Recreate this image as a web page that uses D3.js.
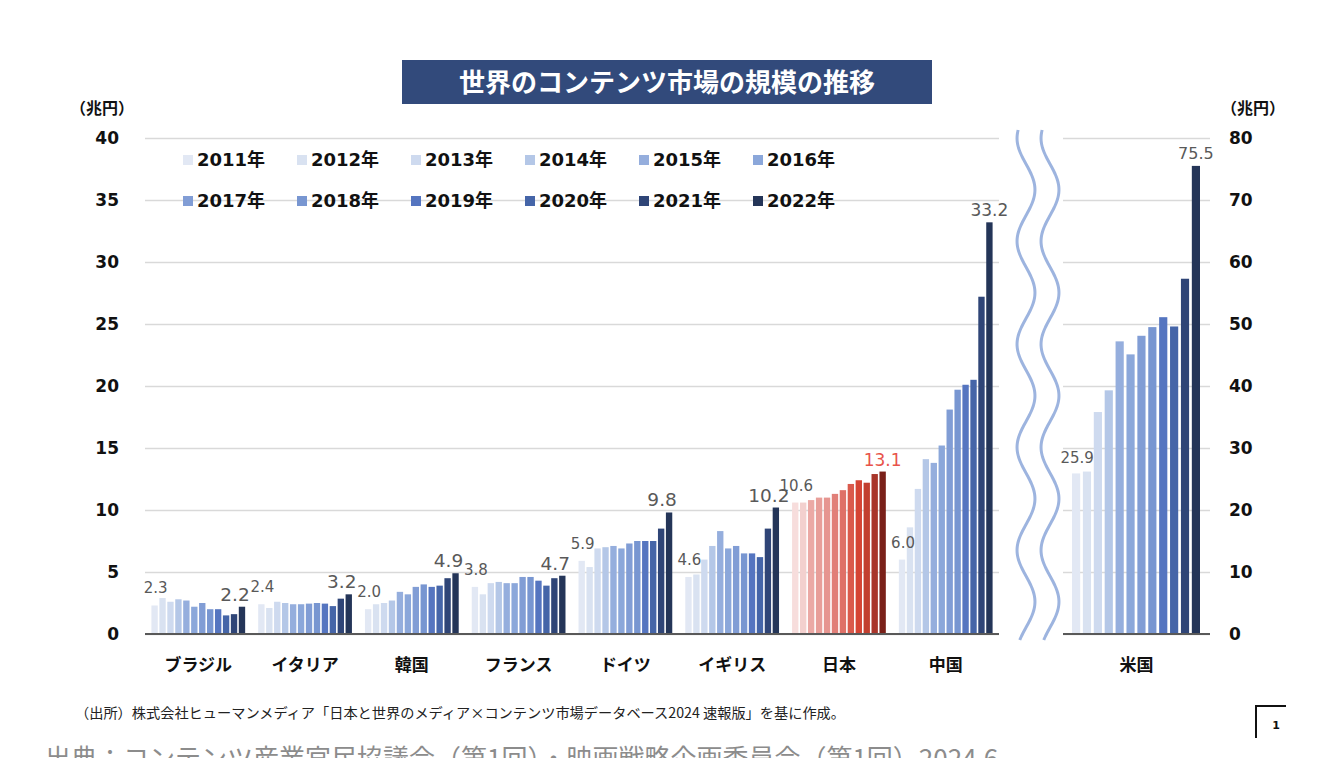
<!DOCTYPE html>
<html><head><meta charset="utf-8">
<script src="https://cdn.jsdelivr.net/npm/d3@7"></script>
<style>
html,body{margin:0;padding:0;background:#fff;}
svg{display:block;}
</style></head>
<body>
<svg id="chart" width="1336" height="758"></svg>
<script>
// ---- data ----
const years = ["2011年","2012年","2013年","2014年","2015年","2016年","2017年","2018年","2019年","2020年","2021年","2022年"];
const countries = ["ブラジル","イタリア","韓国","フランス","ドイツ","イギリス","日本","中国"];
const brazil  = [2.3, 2.9, 2.6, 2.8, 2.7, 2.2, 2.5, 2.0, 2.0, 1.5, 1.6, 2.2];
const italy   = [2.4, 2.1, 2.6, 2.5, 2.4, 2.4, 2.45, 2.5, 2.45, 2.25, 2.85, 3.2];
const korea   = [2.0, 2.4, 2.5, 2.7, 3.4, 3.2, 3.8, 4.0, 3.8, 3.9, 4.5, 4.9];
const france  = [3.8, 3.2, 4.1, 4.2, 4.1, 4.1, 4.6, 4.6, 4.3, 3.9, 4.5, 4.7];
const germany = [5.9, 5.4, 6.9, 7.0, 7.1, 6.9, 7.3, 7.5, 7.5, 7.5, 8.5, 9.8];
const uk      = [4.6, 4.8, 6.0, 7.1, 8.3, 6.9, 7.1, 6.5, 6.5, 6.2, 8.5, 10.2];
const japan   = [10.6, 10.6, 10.8, 11.0, 11.0, 11.3, 11.6, 12.1, 12.4, 12.2, 12.9, 13.1];
const china   = [6.0, 8.6, 11.7, 14.1, 13.8, 15.2, 18.1, 19.7, 20.1, 20.5, 27.2, 33.2];
const usName  = "米国";
const usa     = [25.9, 26.2, 35.8, 39.3, 47.2, 45.1, 48.1, 49.5, 51.1, 49.6, 57.3, 75.5];
const leftTicks  = [0, 5, 10, 15, 20, 25, 30, 35, 40];
const rightTicks = [0, 10, 20, 30, 40, 50, 60, 70, 80];
const unitLabel = "（兆円）";
const titleText = "世界のコンテンツ市場の規模の推移";
const sourceText = "（出所）株式会社ヒューマンメディア「日本と世界のメディア×コンテンツ市場データベース2024  速報版」を基に作成。";
const footText = "出典：コンテンツ産業官民協議会（第1回）・映画戦略企画委員会（第1回）2024.6";
const pageNo = "1";

const leftSeries = [brazil, italy, korea, france, germany, uk, japan, china];

// ---- styles ----
const blueColors = ["#e2e8f4","#d9e2f1","#cedaef","#b4c7e7","#95aedd","#8ba7da","#819dd5","#7896d1","#5575c0","#4565a8","#2f4577","#243558"];
const redColors  = ["#f7dddc","#f3d0ce","#eba9a5","#e89e99","#e69590","#e17f78","#df7067","#da5a4c","#d54434","#c23f2f","#a8352a","#7a2019"];
const NUM = "'DejaVu Sans', 'Noto Sans CJK JP', sans-serif";
const JP  = "'Noto Sans CJK JP', sans-serif";

const svg = d3.select("#chart");
const y0 = 634, yTop = 138;
const yL = d3.scaleLinear().domain([0, 40]).range([y0, yTop]);
const yR = d3.scaleLinear().domain([0, 80]).range([y0, yTop]);
const leftX0 = 145, leftX1 = 999, rightX0 = 1063, rightX1 = 1210;

const xL = d3.scaleBand().domain(countries).range([leftX0, leftX1]).paddingInner(0.122).paddingOuter(0.06);
const xIn = d3.scaleBand().domain(years).range([0, xL.bandwidth()]).paddingInner(0.2);
const xR = d3.scaleBand().domain(years).range([1072, 1200]).paddingInner(0.25);

// ---- gridlines / axes ----
const gL = svg.append("g").attr("transform", `translate(${leftX0},0)`)
  .call(d3.axisLeft(yL).tickValues(leftTicks).tickSize(-(leftX1 - leftX0)).tickPadding(26));
gL.select(".domain").remove();
gL.selectAll(".tick line").attr("stroke", "#d9d9d9").attr("stroke-width", 1.5);
gL.selectAll(".tick text").attr("font-family", NUM).attr("font-weight", "bold").attr("font-size", 17).attr("fill", "#111");

const gR = svg.append("g").attr("transform", `translate(${rightX1},0)`)
  .call(d3.axisRight(yR).tickValues(rightTicks).tickSize(-(rightX1 - rightX0)).tickPadding(19));
gR.select(".domain").remove();
gR.selectAll(".tick line").attr("stroke", "#d9d9d9").attr("stroke-width", 1.5);
gR.selectAll(".tick text").attr("font-family", NUM).attr("font-weight", "bold").attr("font-size", 17).attr("fill", "#111");

// ---- legend ----
const legX0 = 183, legStep = 114;
years.forEach((yr, i) => {
  const r = Math.floor(i / 6), c = i % 6;
  const lx = legX0 + c * legStep, ly = 160 + r * 41;
  svg.append("rect").attr("x", lx).attr("y", ly - 5).attr("width", 10).attr("height", 10).attr("fill", blueColors[i]);
  svg.append("text").attr("x", lx + 14).attr("y", ly).attr("dy", "0.35em")
    .attr("font-family", NUM).attr("font-weight", "bold").attr("font-size", 18).attr("fill", "#111").text(yr);
});

// ---- left bars ----
countries.forEach((c, ci) => {
  const vals = leftSeries[ci];
  const colors = c === "日本" ? redColors : blueColors;
  const g = svg.append("g").attr("transform", `translate(${xL(c)},0)`);
  g.selectAll("rect").data(vals).join("rect")
    .attr("x", (d, i) => xIn(years[i]))
    .attr("y", d => yL(d))
    .attr("width", xIn.bandwidth())
    .attr("height", d => y0 - yL(d))
    .attr("fill", (d, i) => colors[i]);
  // first label
  g.append("text").attr("x", xIn(years[0]) + xIn.bandwidth() / 2 + 1).attr("y", yL(vals[0]) - 12)
    .attr("text-anchor", "middle").attr("font-family", NUM).attr("font-size", 15).attr("fill", "#595959")
    .text(d3.format(".1f")(vals[0]));
  const last = vals[vals.length - 1];
  const big = ci < 6;
  g.append("text").attr("x", xIn(years[11]) + xIn.bandwidth() / 2 - (big ? 7 : 0)).attr("y", yL(last) - 6)
    .attr("text-anchor", "middle").attr("font-family", NUM).attr("font-size", big ? 18.5 : 17)
    .attr("fill", c === "日本" ? "#e8534a" : "#595959")
    .text(d3.format(".1f")(last));
  svg.append("text").attr("x", xL(c) + xL.bandwidth() / 2).attr("y", 671)
    .attr("text-anchor", "middle").attr("font-family", JP).attr("font-weight", "bold").attr("font-size", 17).attr("fill", "#111").text(c);
});

// ---- US bars ----
svg.append("g").selectAll("rect").data(usa).join("rect")
  .attr("x", (d, i) => xR(years[i]))
  .attr("y", d => yR(d))
  .attr("width", xR.bandwidth())
  .attr("height", d => y0 - yR(d))
  .attr("fill", (d, i) => blueColors[i]);
svg.append("text").attr("x", xR(years[0]) + xR.bandwidth() / 2 + 1).attr("y", yR(usa[0]) - 10)
  .attr("text-anchor", "middle").attr("font-family", NUM).attr("font-size", 15).attr("fill", "#595959").text(d3.format(".1f")(usa[0]));
svg.append("text").attr("x", xR(years[11]) + xR.bandwidth() / 2).attr("y", yR(usa[11]) - 7)
  .attr("text-anchor", "middle").attr("font-family", NUM).attr("font-size", 16).attr("fill", "#595959").text(d3.format(".1f")(usa[11]));
svg.append("text").attr("x", (rightX0 + rightX1) / 2).attr("y", 671)
  .attr("text-anchor", "middle").attr("font-family", JP).attr("font-weight", "bold").attr("font-size", 17).attr("fill", "#111").text(usName);

// ---- baselines ----
svg.append("line").attr("x1", leftX0).attr("x2", leftX1).attr("y1", y0).attr("y2", y0).attr("stroke", "#595959").attr("stroke-width", 2);
svg.append("line").attr("x1", rightX0).attr("x2", rightX1).attr("y1", y0).attr("y2", y0).attr("stroke", "#595959").attr("stroke-width", 2);

// ---- wavy break lines ----
const wave = d3.line().curve(d3.curveBasis);
[1026, 1050].forEach(cx => {
  const pts = d3.range(130, 641, 3).map(yy => [cx + 9 * Math.sin(2 * Math.PI * (yy - 164) / 103), yy]);
  svg.append("path").attr("d", wave(pts)).attr("fill", "none").attr("stroke", "#9db4df").attr("stroke-width", 3);
});

// ---- units ----
svg.append("text").attr("x", 70).attr("y", 114).attr("font-family", JP).attr("font-weight", "bold").attr("font-size", 16).attr("fill", "#111")
  .attr("textLength", 64).attr("lengthAdjust", "spacing").text(unitLabel);
svg.append("text").attr("x", 1221).attr("y", 114).attr("font-family", JP).attr("font-weight", "bold").attr("font-size", 16).attr("fill", "#111")
  .attr("textLength", 64).attr("lengthAdjust", "spacing").text(unitLabel);

// ---- title ----
svg.append("rect").attr("x", 402).attr("y", 60).attr("width", 530).attr("height", 44).attr("fill", "#324a7b");
svg.append("text").attr("x", 667).attr("y", 83).attr("dy", "0.35em").attr("text-anchor", "middle")
  .attr("font-family", JP).attr("font-weight", "bold").attr("font-size", 26).attr("fill", "#fff").text(titleText);

// ---- source ----
svg.append("text").attr("x", 75).attr("y", 718).attr("font-family", JP).attr("font-size", 14).attr("fill", "#222")
  .attr("textLength", 770).attr("lengthAdjust", "spacingAndGlyphs").text(sourceText);
svg.append("text").attr("x", 45).attr("y", 768).attr("font-family", JP).attr("font-size", 26).attr("fill", "#8c8c8c").text(footText);

// ---- page number ----
svg.append("path").attr("d", "M1256,738 V706 H1286").attr("fill", "none").attr("stroke", "#111").attr("stroke-width", 2);
svg.append("text").attr("x", 1276).attr("y", 729).attr("text-anchor", "middle").attr("font-family", NUM).attr("font-weight", "bold").attr("font-size", 11).attr("fill", "#111").text(pageNo);
</script>
</body></html>
